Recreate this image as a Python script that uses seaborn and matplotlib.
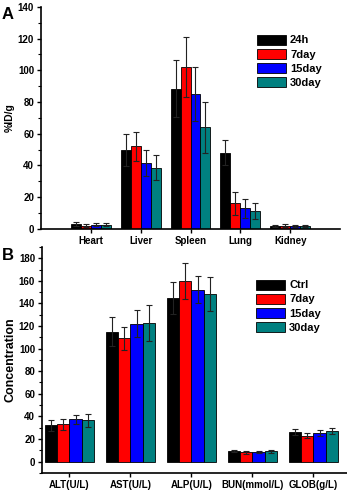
import matplotlib
matplotlib.use("Agg")
from matplotlib import pyplot as plt
from matplotlib.ticker import MultipleLocator
import pandas as pd
import seaborn as sns

organs = ['Heart', 'Liver', 'Spleen', 'Lung', 'Kidney']
times_a = ['24h', '7day', '15day', '30day']
uptake = {
    '24h':   [3.0, 49.5, 88.5, 48.0, 1.5],
    '7day':  [2.0, 52.0, 102.0, 16.0, 2.0],
    '15day': [2.5, 41.5, 85.0, 13.0, 1.5],
    '30day': [2.5, 38.5, 64.0, 11.0, 2.0],
}
uptake_err = {
    '24h':   [1.0, 10.0, 18.0, 8.0, 0.6],
    '7day':  [0.8, 9.0, 19.0, 7.0, 0.8],
    '15day': [1.0, 8.0, 17.0, 6.0, 0.6],
    '30day': [1.0, 8.0, 16.0, 5.0, 0.6],
}

markers = ['ALT(U/L)', 'AST(U/L)', 'ALP(U/L)', 'BUN(mmol/L)', 'GLOB(g/L)']
times_b = ['Ctrl', '7day', '15day', '30day']
conc = {
    'Ctrl':  [32.0, 115.0, 145.0, 9.0, 26.0],
    '7day':  [33.0, 109.0, 160.0, 8.0, 23.0],
    '15day': [37.5, 122.0, 152.0, 8.5, 25.0],
    '30day': [36.5, 123.0, 148.0, 9.0, 27.0],
}
conc_err = {
    'Ctrl':  [5.0, 13.0, 14.0, 0.8, 2.5],
    '7day':  [5.0, 10.0, 16.0, 1.0, 2.5],
    '15day': [4.0, 12.0, 12.0, 1.0, 2.5],
    '30day': [6.0, 16.0, 15.0, 1.5, 3.0],
}

colors = ['#000000', '#ff0000', '#0000ff', '#008080']

sns.set_style('ticks', {'axes.edgecolor': 'black', 'text.color': 'black',
                        'axes.labelcolor': 'black', 'xtick.color': 'black',
                        'ytick.color': 'black'})
plt.rcParams['font.family'] = ['Liberation Sans', 'DejaVu Sans']
plt.rcParams['font.weight'] = 'bold'


def long_table(cats, groups, vals, col):
    rows = []
    for g in groups:
        for c, v in zip(cats, vals[g]):
            rows.append({'cat': c, 'group': g, col: v})
    return pd.DataFrame(rows)


def draw(ax, cats, groups, vals, errs, col):
    df = long_table(cats, groups, vals, col)
    sns.barplot(data=df, x='cat', y=col, hue='group', order=cats,
                hue_order=groups, palette=colors, saturation=1,
                edgecolor='black', linewidth=0.6, width=0.8,
                errorbar=None, ax=ax)
    for cont, g in zip(ax.containers, groups):
        xs = [p.get_x() + p.get_width() / 2 for p in cont.patches]
        ax.errorbar(xs, vals[g], yerr=errs[g], fmt='none', ecolor='#222222',
                    elinewidth=0.8, capsize=2, capthick=0.8)
    sns.despine(ax=ax)
    ax.set_xlabel('')
    ax.tick_params(axis='both', labelsize=7, width=1, length=3, pad=2)
    ax.tick_params(axis='y', which='minor', length=2, width=0.8)
    ax.yaxis.set_major_locator(MultipleLocator(20))
    ax.yaxis.set_minor_locator(MultipleLocator(10))
    for s in ax.spines.values():
        s.set_linewidth(1.2)
    leg = ax.legend(frameon=False, fontsize=8, handlelength=2.6,
                    handleheight=1.0, labelspacing=0.3, handletextpad=0.35,
                    loc='upper left', bbox_to_anchor=(0.69, 0.92))
    for t in leg.get_texts():
        t.set_fontweight('bold')


def bold_ticks(ax):
    for lab in ax.get_xticklabels() + ax.get_yticklabels():
        lab.set_fontweight('bold')


fig = plt.figure(figsize=(3.47, 4.92), dpi=100)
ax1 = fig.add_axes([0.118, 0.535, 0.862, 0.451])
ax2 = fig.add_axes([0.121, 0.039, 0.879, 0.459])

draw(ax1, organs, times_a, uptake, uptake_err, 'uptake')
ax1.set_xlim(-1, 5)
ax1.set_ylim(0, 140)
ax1.set_ylabel('%ID/g', fontsize=7.5, fontweight='bold', labelpad=2)
bold_ticks(ax1)

draw(ax2, markers, times_b, conc, conc_err, 'conc')
ax2.set_xlim(-0.45, 4.55)
ax2.set_ylim(-10, 190)
ax2.set_ylabel('Concentration', fontsize=9, fontweight='bold', labelpad=2)
ax2.get_legend().set_bbox_to_anchor((0.67, 0.90))
bold_ticks(ax2)

fig.text(0.005, 0.985, 'A', fontsize=12, fontweight='bold', va='top')
fig.text(0.005, 0.495, 'B', fontsize=12, fontweight='bold', va='top')

fig.savefig('out.png', dpi=100)
